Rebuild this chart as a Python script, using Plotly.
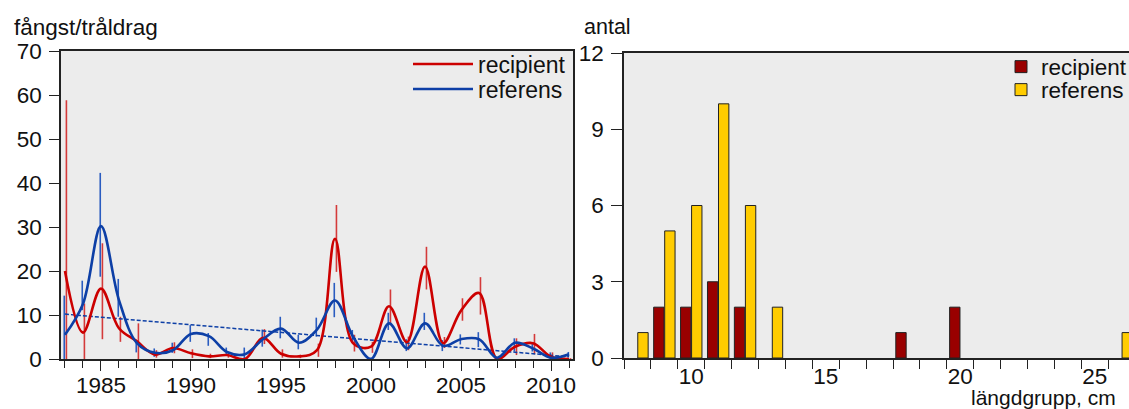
import plotly.graph_objects as go

# ---------------- data: left panel ----------------
years = list(range(1983, 2012))
recipient = [20, 6, 16, 7, 4, 1, 2.5, 1.3, 0.6, 0.9, 0, 4.8, 1.2, 0.6, 2,
             27.3, 3.6, 2.8, 12, 3.8, 21, 3.6, 11, 15, 0, 2.8, 3.6, 0.5, 0]
referens = [5.5, 12.5, 30.2, 13.4, 3.6, 1.4, 2.0, 5.7, 5.2, 1.6, 1.1, 4.5, 6.9, 3.7, 6.7,
            13.3, 5.1, 0, 8.1, 2.4, 8.1, 3.0, 4.5, 4.5, 0.3, 3.7, 2.4, 0.3, 1.1]
rec_lo = [0, 0, 4.5, 3.9, 0, 0.3, 1.3, 0.2, 0.2, 0.3, 0, 3.4, 0.3, 0.2, 0.5,
          19.8, 1.7, 1.4, 8.1, 2.0, 15.8, 2.5, 8.7, 10.1, 0, 0.9, 1.1, 0, 0]
rec_hi = [58.8, 12.6, 26.3, 9.6, 8.1, 2.0, 3.8, 2.2, 1.2, 1.5, 0.5, 6.8, 2.2, 1.0, 3.5,
          35, 5.5, 3.9, 15.8, 5.1, 25.5, 5.0, 13.8, 18.6, 0.3, 4.7, 5.7, 1.5, 0.2]
ref_lo = [0, 11.1, 18.7, 9.6, 1.5, 0.5, 1.4, 3.9, 3.0, 0.8, 0, 2.8, 4.7, 2.2, 5.1,
          9.5, 3.6, 0, 6.6, 1.8, 6.6, 1.8, 3.3, 2.7, 0, 1.7, 1.7, 0, 0.6]
ref_hi = [14.4, 17.8, 42.3, 18.2, 4.4, 2.4, 3.7, 7.7, 5.9, 2.6, 2.6, 6.7, 9.6, 5.5, 9.4,
          17.3, 6.6, 0.3, 10.5, 4.5, 10.5, 4.3, 5.6, 6.1, 0.5, 4.7, 3.6, 1.5, 1.6]
trend_years = [1983, 2011]
trend_vals = [10.2, 0.5]

# ---------------- data: right panel ----------------
len_rec = [9, 10, 11, 12, 18, 20]
cnt_rec = [2, 2, 3, 2, 1, 2]
len_ref = [8, 9, 10, 11, 12, 13, 26]
cnt_ref = [1, 5, 6, 10, 6, 2, 1]

# ---------------- styles ----------------
RED = "#cc0000"
RED_ERR = "#d43a3a"
BLUE = "#0d3fa6"
BLUE_ERR = "#2a5cc0"
BAR_RED = "#990000"
BAR_YEL = "#ffcc00"
BG = "#ececec"
AX = "#222222"
FONT = "Liberation Sans, Arial, Helvetica, sans-serif"
FS = 22.5
LFS = 23


def segs(xs, lo, hi, dx):
    X, Y = [], []
    for x, a, b in zip(xs, lo, hi):
        X += [x + dx, x + dx, None]
        Y += [a, b, None]
    return X, Y


fig = go.Figure()

# error bars
xr, yr = segs(years, rec_lo, rec_hi, 0.08)
fig.add_trace(go.Scatter(x=xr, y=yr, mode="lines", line=dict(color=RED_ERR, width=1.6),
                         showlegend=False, hoverinfo="skip", xaxis="x", yaxis="y"))
xb, yb = segs(years, ref_lo, ref_hi, -0.04)
fig.add_trace(go.Scatter(x=xb, y=yb, mode="lines", line=dict(color=BLUE_ERR, width=1.6),
                         showlegend=False, hoverinfo="skip", xaxis="x", yaxis="y"))
# trend
fig.add_trace(go.Scatter(x=trend_years, y=trend_vals, mode="lines",
                         line=dict(color=BLUE, width=1.5, dash="4px,2px"),
                         showlegend=False, xaxis="x", yaxis="y"))
# smooth lines
fig.add_trace(go.Scatter(x=years, y=recipient, mode="lines", name="recipient",
                         line=dict(color=RED, width=2.6, shape="spline", smoothing=1.0),
                         xaxis="x", yaxis="y", legend="legend"))
fig.add_trace(go.Scatter(x=years, y=referens, mode="lines", name="referens",
                         line=dict(color=BLUE, width=2.6, shape="spline", smoothing=1.0),
                         xaxis="x", yaxis="y", legend="legend2"))

# bars
fig.add_trace(go.Bar(x=len_rec, y=cnt_rec, name="recipient",
                     marker=dict(color=BAR_RED, line=dict(color=AX, width=1)),
                     xaxis="x2", yaxis="y2", legend="legend3"))
fig.add_trace(go.Bar(x=len_ref, y=cnt_ref, name="referens",
                     marker=dict(color=BAR_YEL, line=dict(color=AX, width=1)),
                     xaxis="x2", yaxis="y2", legend="legend4"))

W, H = 1129, 409


def leg(xpx, ypx, iw, fs=LFS):
    return dict(x=xpx / W, xanchor="left", y=(H - ypx) / H, yanchor="middle",
                bgcolor="rgba(0,0,0,0)", font=dict(size=fs), itemwidth=iw,
                borderwidth=0, tracegroupgap=0)


fig.update_layout(
    width=W, height=H,
    margin=dict(l=0, r=0, t=0, b=0, autoexpand=False),
    paper_bgcolor="white",
    plot_bgcolor=BG,
    font=dict(family=FONT, size=FS, color="#111111"),
    barmode="group", bargap=0.18, bargroupgap=0.06,
    xaxis=dict(domain=[61 / W, 573 / W], range=[1982.78, 2011.22], anchor="y", automargin=False,
               showgrid=False, zeroline=False, showline=True, linecolor=AX, linewidth=1.5, mirror=True,
               tickmode="array", tickvals=[1985, 1990, 1995, 2000, 2005, 2010],
               ticks="outside", ticklen=10, tickcolor=AX, tickwidth=1.2, ticklabelstandoff=-5,
               minor=dict(tick0=1983, dtick=1, ticks="outside", ticklen=7, tickcolor=AX,
                          tickwidth=1.2, showgrid=False),
               tickfont=dict(size=FS)),
    yaxis=dict(domain=[(H - 359) / H, (H - 51) / H], range=[0, 70], anchor="x", automargin=False,
               showgrid=False, zeroline=False, showline=True, linecolor=AX, linewidth=1.5, mirror=True,
               tickmode="array", tickvals=[0, 10, 20, 30, 40, 50, 60, 70],
               ticks="outside", ticklen=10, tickcolor=AX, tickwidth=1.2, ticklabelstandoff=3,
               tickfont=dict(size=FS)),
    xaxis2=dict(domain=[624 / W, 1.0], range=[7.5, 26.27], anchor="y2", automargin=False,
                showgrid=False, zeroline=False, showline=True, linecolor=AX, linewidth=1.5, mirror=True,
                tickmode="array", tickvals=[10, 15, 20, 25],
                ticks="outside", ticklen=0, tickcolor=AX, ticklabelstandoff=-3,
                minor=dict(tick0=7.5, dtick=1, ticks="outside", ticklen=9, tickcolor=AX,
                           tickwidth=1.2, showgrid=False),
                tickfont=dict(size=FS)),
    yaxis2=dict(domain=[(H - 358) / H, (H - 53) / H], range=[0, 12], anchor="x2", automargin=False,
                showgrid=False, zeroline=False, showline=True, linecolor=AX, linewidth=1.5, mirror=False,
                tickmode="array", tickvals=[0, 3, 6, 9, 12],
                ticks="outside", ticklen=11, tickcolor=AX, tickwidth=1.2, ticklabelstandoff=3,
                tickfont=dict(size=FS)),
    legend=leg(408, 64, 60),
    legend2=leg(408, 89, 60),
    legend3=leg(1001, 67, 30, 22.5),
    legend4=leg(1001, 90, 30, 22.5),
    annotations=[
        dict(text="fångst/tråldrag", xref="paper", yref="paper", x=12 / W, y=(H - 27) / H,
             xanchor="left", yanchor="middle", showarrow=False, font=dict(size=FS)),
        dict(text="antal", xref="paper", yref="paper", x=582 / W, y=(H - 27) / H,
             xanchor="left", yanchor="middle", showarrow=False, font=dict(size=21.5)),
        dict(text="längdgrupp, cm", xref="paper", yref="paper", x=1118 / W, y=(H - 397) / H,
             xanchor="right", yanchor="middle", showarrow=False, font=dict(size=21)),
    ],
)

fig.write_html("out.html", config={"displayModeBar": False},
               post_script="document.body.style.margin='0';document.body.style.overflow='hidden';")
